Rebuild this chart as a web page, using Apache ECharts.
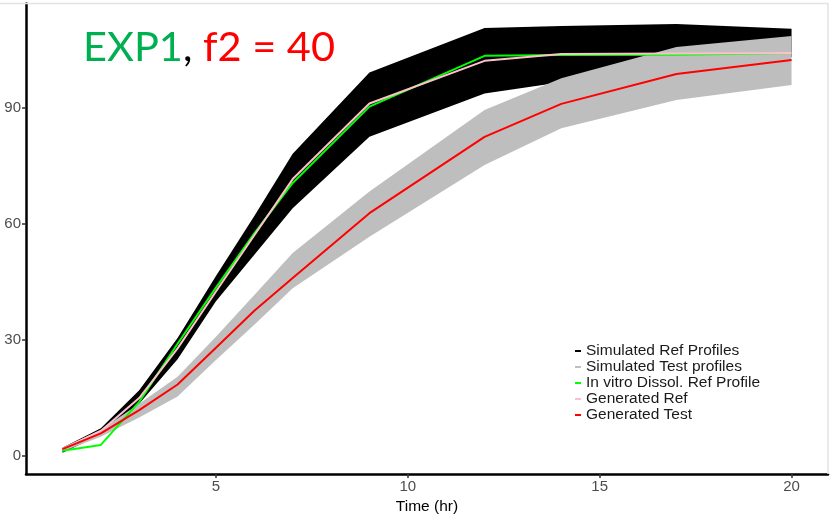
<!DOCTYPE html>
<html>
<head>
<meta charset="utf-8">
<script src="https://cdn.jsdelivr.net/npm/echarts@6/dist/echarts.min.js"></script>
<style>
html,body{margin:0;padding:0;background:#fff;}
#chart{width:838px;height:515px;}
</style>
</head>
<body>
<div id="chart"></div>
<script>
// ---- data ----
var times = [1, 2, 3, 4, 5, 6, 7, 9, 12, 14, 17, 20];
var refBandLower = [0.9, 5.5, 13.5, 25, 40, 52, 64, 82.4, 93.6, 96.5, 100, 103];
var refBandUpper = [2.2, 7.2, 17.0, 30.5, 46.5, 62, 78, 99, 110.5, 111, 111.5, 110.3];
var testBandLower = [1.2, 5.0, 10.0, 15.4, 24.8, 33.9, 43.3, 56.6, 75.1, 84.6, 91.9, 95.8];
var testBandUpper = [2.2, 6.8, 13.5, 20.5, 30.8, 41.6, 52.4, 68.3, 89.3, 97.5, 105.6, 108.4];
var invitroRef = [1.4, 2.9, 14.0, 29, 43.5, 57.5, 70.5, 90.2, 103.3, 103.5, 103.6, 104.0];
var generatedRef = [1.8, 6.5, 15.0, 27.8, 42.5, 57, 71.5, 91.0, 102.0, 103.8, 103.9, 104.0];
var generatedTest = [1.8, 5.9, 11.9, 18.5, 28, 37.5, 46, 62.7, 82.4, 90.9, 98.6, 102.2];
var xTicks = [5, 10, 15, 20];
var yTicks = [0, 30, 60, 90];
var seriesNames = ['Simulated Ref Profiles', 'Simulated Test profiles', 'In vitro Dissol. Ref Profile', 'Generated Ref', 'Generated Test'];
var seriesColors = ['#000000', '#bebebe', '#00ff00', '#ffc0cb', '#ff0000'];

function pairs(vals) { return times.map(function (t, i) { return [t, vals[i]]; }); }

function band(name, lower, upper, color, z) {
  return {
    type: 'custom',
    name: name,
    z: z,
    itemStyle: { color: color },
    data: times.map(function (t, i) { return [t, lower[i], upper[i]]; }),
    encode: { x: 0, y: [1, 2] },
    renderItem: function (params, api) {
      if (params.dataIndex !== 0) return;
      var pts = [];
      for (var i = 0; i < times.length; i++) pts.push(api.coord([times[i], upper[i]]));
      for (var j = times.length - 1; j >= 0; j--) pts.push(api.coord([times[j], lower[j]]));
      return { type: 'polygon', shape: { points: pts }, style: { fill: color } };
    }
  };
}

function line(name, vals, color, width, z) {
  return {
    type: 'line', name: name, data: pairs(vals), symbol: 'none', z: z,
    itemStyle: { color: color },
    lineStyle: { color: color, width: width }
  };
}

var chart = echarts.init(document.getElementById('chart'));
chart.setOption({
  animation: false,
  backgroundColor: '#ffffff',
  grid: { left: 26, right: 10, top: 3.5, bottom: 41, containLabel: false, outerBoundsMode: 'none' },
  xAxis: {
    type: 'value', min: 0.05, max: 20.95,
    name: 'Time (hr)', nameLocation: 'middle', nameGap: 22,
    nameTextStyle: { color: '#000', fontSize: 15.5, fontFamily: 'Liberation Sans' },
    axisLine: { show: true, onZero: false, lineStyle: { color: '#000', width: 2.5 } },
    axisTick: { show: true, length: 4, customValues: xTicks, lineStyle: { color: '#333', width: 1.5 } },
    axisLabel: { customValues: xTicks, color: '#4d4d4d', fontSize: 15, fontFamily: 'Liberation Sans', margin: 5 },
    splitLine: { show: false }
  },
  yAxis: {
    type: 'value', min: -4.6, max: 116.8,
    axisLine: { show: true, onZero: false, lineStyle: { color: '#000', width: 2.5 } },
    axisTick: { show: true, length: 4, customValues: yTicks, lineStyle: { color: '#333', width: 1.5 } },
    axisLabel: { customValues: yTicks, color: '#4d4d4d', fontSize: 15, fontFamily: 'Liberation Sans', margin: 5 },
    splitLine: { show: false }
  },
  legend: {
    orient: 'vertical', left: 575, top: 343, padding: 0,
    itemWidth: 6, itemHeight: 2, itemGap: 0, icon: 'rect',
    data: seriesNames,
    textStyle: { color: '#1a1a1a', fontSize: 15.5, fontFamily: 'Liberation Sans', lineHeight: 15.6 },
    selectedMode: false
  },
  graphic: [
    { type: 'line', shape: { x1: 0, y1: 3.5, x2: 828, y2: 3.5 }, style: { stroke: '#e3e3e3', lineWidth: 1.5 }, z: 1 },
    { type: 'line', shape: { x1: 828, y1: 3, x2: 828, y2: 474 }, style: { stroke: '#e3e3e3', lineWidth: 1.5 }, z: 1 },
    {
      type: 'text', left: 83, top: 27, z: 100,
      style: {
        text: '{g|EXP1}{k|,} {r|f2 = 40}',
        rich: {
          g: { fill: '#00b050', fontSize: 41.5, fontFamily: 'Lato' },
          k: { fill: '#000000', fontSize: 41.5, fontFamily: 'Lato' },
          r: { fill: '#ff0000', fontSize: 41.5, fontFamily: 'Lato' }
        },
        font: '41.5px Lato'
      }
    }
  ],
  series: [
    band(seriesNames[0], refBandLower, refBandUpper, seriesColors[0], 1),
    band(seriesNames[1], testBandLower, testBandUpper, seriesColors[1], 2),
    line(seriesNames[2], invitroRef, seriesColors[2], 2, 3),
    line(seriesNames[3], generatedRef, seriesColors[3], 2, 4),
    line(seriesNames[4], generatedTest, seriesColors[4], 2, 5)
  ]
});
</script>
</body>
</html>
